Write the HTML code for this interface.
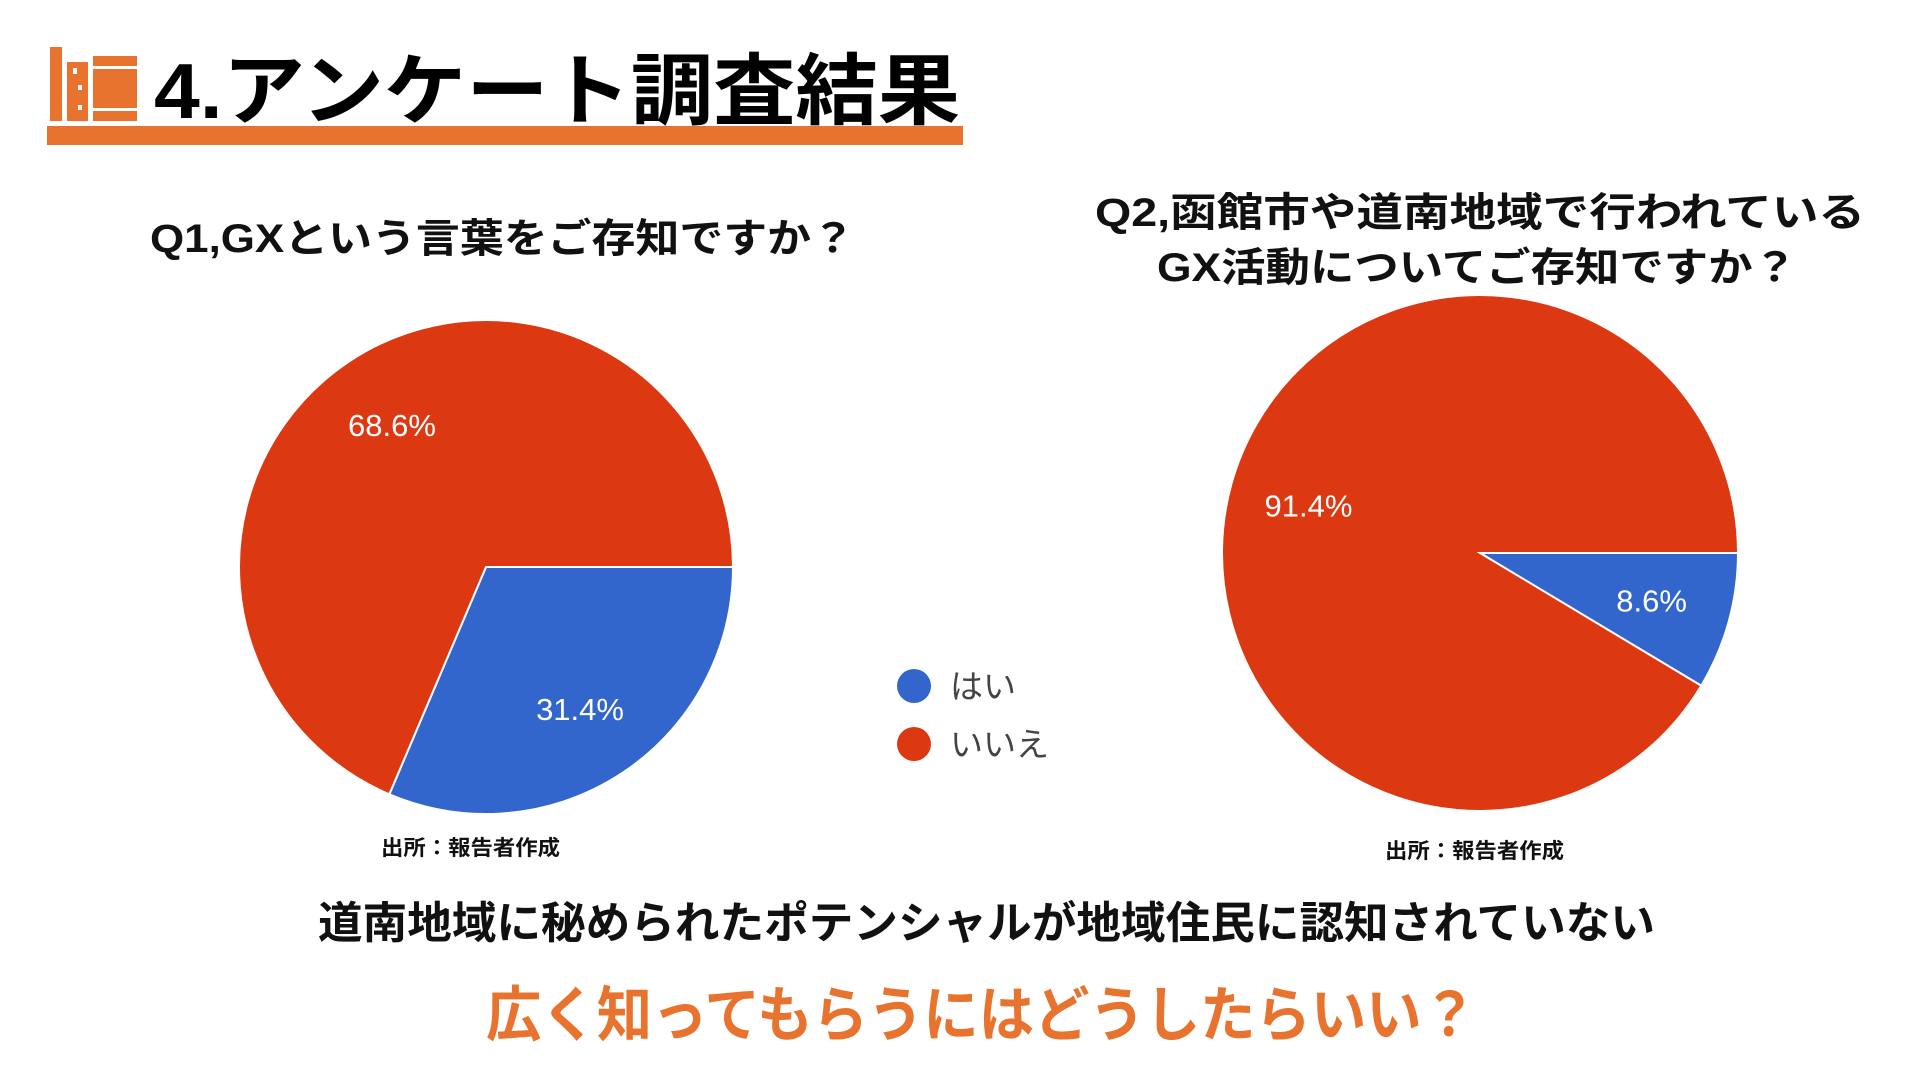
<!DOCTYPE html>
<html><head><meta charset="utf-8">
<style>
html,body{margin:0;padding:0;background:#fff;}
svg{display:block;}
text{font-family:"Liberation Sans","Noto Sans CJK JP",sans-serif;}
</style></head>
<body>
<svg id="chart" width="1920" height="1080" viewBox="0 0 1920 1080">
  <g fill="#E8732E">
    <rect x="50" y="47" width="12" height="74"/>
    <rect x="67" y="62" width="21" height="59"/>
    <rect x="93" y="56" width="44" height="65"/>
    <rect x="73" y="68" width="4" height="6" fill="#fff"/>
    <rect x="78" y="85" width="4" height="5" fill="#fff"/>
    <rect x="78" y="105" width="4" height="5" fill="#fff"/>
    <rect x="93" y="66" width="44" height="3" fill="#fff"/>
    <rect x="93" y="108" width="44" height="3" fill="#fff"/>
  </g>
  <text x="154" y="118" font-size="78" font-weight="bold" fill="#000" textLength="806" lengthAdjust="spacingAndGlyphs">4.アンケート調査結果</text>
  <rect x="47" y="126" width="916" height="19" fill="#E8732E"/>

  <text x="150" y="252" font-size="40" font-weight="bold" fill="#111" textLength="705" lengthAdjust="spacingAndGlyphs">Q1,GXという言葉をご存知ですか？</text>
  <text x="1095" y="226" font-size="40" font-weight="bold" fill="#111" textLength="770" lengthAdjust="spacingAndGlyphs">Q2,函館市や道南地域で行われている</text>
  <text x="1157" y="281" font-size="40" font-weight="bold" fill="#111" textLength="640" lengthAdjust="spacingAndGlyphs">GX活動についてご存知ですか？</text>

  <g id="pie1"></g>
  <g id="pie2"></g>

  <g>
    <circle cx="914" cy="686" r="17" fill="#3366CC"/>
    <text x="950" y="698" font-size="33" fill="#444">はい</text>
    <circle cx="914" cy="744" r="17" fill="#DC3912"/>
    <text x="950" y="756" font-size="33" fill="#444">いいえ</text>
  </g>

  <text x="381" y="855" font-size="21" font-weight="bold" fill="#111" textLength="179" lengthAdjust="spacingAndGlyphs">出所：報告者作成</text>
  <text x="1385" y="858" font-size="21" font-weight="bold" fill="#111" textLength="179" lengthAdjust="spacingAndGlyphs">出所：報告者作成</text>

  <text x="318" y="938" font-size="44" font-weight="bold" fill="#111" textLength="1337" lengthAdjust="spacingAndGlyphs">道南地域に秘められたポテンシャルが地域住民に認知されていない</text>
  <text x="486" y="1036" font-size="60" font-weight="bold" fill="#E8732E" textLength="991" lengthAdjust="spacingAndGlyphs">広く知ってもらうにはどうしたらいい？</text>
</svg>
<script>
const categories = ['はい', 'いいえ'];
const q1Values = [31.4, 68.6];
const q2Values = [8.6, 91.4];
const q1Labels = ['31.4%', '68.6%'];
const q2Labels = ['8.6%', '91.4%'];
const sliceColors = ['#3366CC', '#DC3912'];
const NS = 'http://www.w3.org/2000/svg';

function drawPie(gid, values, labels, cx, cy, r) {
  const g = document.getElementById(gid);
  const total = values.reduce((a, b) => a + b, 0);
  let a0 = 0;
  values.forEach((v, i) => {
    const a1 = a0 + v / total * Math.PI * 2;
    const x0 = cx + r * Math.cos(a0), y0 = cy + r * Math.sin(a0);
    const x1 = cx + r * Math.cos(a1), y1 = cy + r * Math.sin(a1);
    const large = (a1 - a0) > Math.PI ? 1 : 0;
    const p = document.createElementNS(NS, 'path');
    p.setAttribute('d', `M${cx},${cy} L${x0},${y0} A${r},${r} 0 ${large} 1 ${x1},${y1} Z`);
    p.setAttribute('fill', sliceColors[i]);
    p.setAttribute('stroke', '#fff');
    p.setAttribute('stroke-width', '2');
    
    
    g.appendChild(p);
    const mid = (a0 + a1) / 2;
    const lr = r * 0.69;
    const t = document.createElementNS(NS, 'text');
    t.setAttribute('x', cx + lr * Math.cos(mid));
    t.setAttribute('y', cy + lr * Math.sin(mid) + 11);
    t.setAttribute('text-anchor', 'middle');
    t.setAttribute('font-size', '31');
    t.setAttribute('fill', '#fff');
    t.textContent = labels[i];
    
    
    g.appendChild(t);
    a0 = a1;
  });
}
drawPie('pie1', q1Values, q1Labels, 486, 567, 247);
drawPie('pie2', q2Values, q2Labels, 1480, 553, 258);
</script>
</body></html>
